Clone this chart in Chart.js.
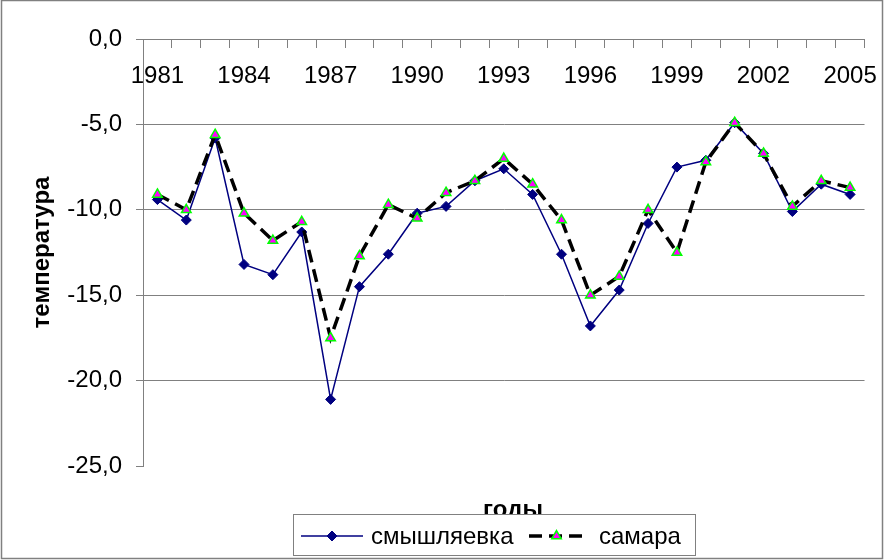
<!DOCTYPE html>
<html>
<head>
<meta charset="utf-8">
<script src="https://cdn.jsdelivr.net/npm/chart.js@4/dist/chart.umd.min.js"></script>
<style>
  body { margin: 0; background: #fff; }
  #wrap { width: 892px; height: 560px; }
</style>
</head>
<body>
<div id="wrap"><canvas id="chart" width="892" height="560"></canvas></div>
<script>
// years on the category axis
const years = [1981, 1982, 1983, 1984, 1985, 1986, 1987, 1988, 1989, 1990, 1991, 1992, 1993,
    1994, 1995, 1996, 1997, 1998, 1999, 2000, 2001, 2002, 2003, 2004, 2005];
// only every third year gets a label
const shownYears = [1981, 1984, 1987, 1990, 1993, 1996, 1999, 2002, 2005];
const yTicks = [0, -5, -10, -15, -20, -25];

const seriesNames = ['смышляевка', 'самара'];
const smyshlyaevka = [-9.4, -10.6, -5.8, -13.2, -13.8, -11.3, -21.1, -14.5, -12.6, -10.2, -9.8, -8.3, -7.6,
    -9.1, -12.6, -16.8, -14.7, -10.8, -7.5, -7.1, -4.9, -6.7, -10.1, -8.5, -9.1];
const samara = [-9.1, -10.0, -5.6, -10.2, -11.8, -10.7, -17.5, -12.7, -9.7, -10.5, -9.0, -8.3, -7.0,
    -8.5, -10.6, -15.0, -13.9, -10.0, -12.5, -7.2, -4.9, -6.7, -9.8, -8.3, -8.7];

const axisTitleX = 'годы';
const axisTitleY = 'температура';

const FONT = "'Liberation Sans', Arial, sans-serif";
const GRAY = '#808080';

Chart.defaults.font.family = FONT;
Chart.defaults.color = '#000';

// frame, x title and the boxed legend (line sample + marker + label)
const frameAndLegend = {
    id: 'frameAndLegend',
    beforeDraw(chart) {
        const ctx = chart.ctx;
        ctx.save();
        ctx.fillStyle = '#fff';
        ctx.fillRect(0, 0, chart.width, chart.height);
        ctx.restore();
    },
    afterDraw(chart) {
        const ctx = chart.ctx;
        ctx.save();

        // outer chart border
        ctx.strokeStyle = GRAY;
        ctx.lineWidth = 1.5;
        ctx.strokeRect(1.5, 0.5, 881, 558);

        // x axis title, partly hidden behind the legend box
        ctx.fillStyle = '#000';
        ctx.font = 'bold 24px ' + FONT;
        ctx.textAlign = 'center';
        ctx.textBaseline = 'alphabetic';
        ctx.fillText(axisTitleX, 513, 517);

        // legend box
        ctx.fillStyle = '#fff';
        ctx.fillRect(293, 514, 402, 41);
        ctx.strokeStyle = GRAY;
        ctx.lineWidth = 1;
        ctx.strokeRect(293.5, 514.5, 402, 41);

        const items = [
            { x0: 301, x1: 363, textX: 371 },
            { x0: 529, x1: 584, textX: 599 }
        ];
        const cy = 536;
        chart.data.datasets.forEach((ds, i) => {
            const it = items[i];
            ctx.save();
            ctx.strokeStyle = ds.borderColor;
            ctx.lineWidth = ds.borderWidth;
            ctx.setLineDash(ds.borderDash || []);
            ctx.beginPath();
            ctx.moveTo(it.x0, cy);
            ctx.lineTo(it.x1, cy);
            ctx.stroke();
            ctx.restore();

            ctx.save();
            ctx.fillStyle = ds.pointBackgroundColor;
            ctx.strokeStyle = ds.pointBorderColor;
            ctx.lineWidth = ds.pointBorderWidth;
            Chart.helpers.drawPoint(ctx, {
                pointStyle: ds.pointStyle,
                radius: ds.pointRadius,
                rotation: 0,
                borderWidth: ds.pointBorderWidth
            }, (it.x0 + it.x1) / 2, cy);
            ctx.restore();

            ctx.fillStyle = '#000';
            ctx.font = '24px ' + FONT;
            ctx.textAlign = 'left';
            ctx.textBaseline = 'middle';
            ctx.fillText(ds.label, it.textX, cy + 1);
        });

        ctx.restore();
    }
};

const ctx = document.getElementById('chart').getContext('2d');
new Chart(ctx, {
    type: 'line',
    data: {
        labels: years,
        datasets: [{
            label: seriesNames[0],
            data: smyshlyaevka,
            borderColor: '#000080',
            borderWidth: 1.5,
            pointStyle: 'rectRot',
            pointRadius: 5,
            pointBackgroundColor: '#000080',
            pointBorderColor: '#000080',
            pointBorderWidth: 1,
            order: 1
        }, {
            label: seriesNames[1],
            data: samara,
            borderColor: '#000000',
            borderWidth: 3.5,
            borderDash: [13, 7],
            pointStyle: 'triangle',
            pointRadius: 5.5,
            pointBackgroundColor: '#ff00ff',
            pointBorderColor: '#00ff00',
            pointBorderWidth: 1.5,
            order: 0
        }]
    },
    options: {
        responsive: false,
        animation: false,
        layout: { padding: { left: 0, top: 39, right: 10, bottom: 94 } },
        plugins: {
            legend: { display: false },
            tooltip: { enabled: false }
        },
        elements: { line: { tension: 0 } },
        scales: {
            x: {
                type: 'category',
                offset: true,
                position: { y: 0 },
                grid: {
                    offset: true,
                    drawOnChartArea: false,
                    drawTicks: true,
                    tickLength: 8,
                    color: GRAY
                },
                border: { color: GRAY, width: 1 },
                ticks: {
                    autoSkip: false,
                    maxRotation: 0,
                    padding: 15,
                    font: { size: 24 },
                    color: '#000',
                    callback: (v, i) => shownYears.includes(years[i]) ? String(years[i]) : ''
                }
            },
            y: {
                min: -25,
                max: 0,
                afterBuildTicks: scale => {
                    scale.ticks = yTicks.map(v => ({ value: v }));
                },
                afterFit: scale => {
                    scale.width = 143;
                },
                grid: {
                    color: c => c.tick && c.tick.value === -25 ? 'rgba(0,0,0,0)' : GRAY,
                    tickColor: GRAY,
                    tickLength: 7,
                    lineWidth: 1
                },
                border: { color: GRAY, width: 1 },
                ticks: {
                    padding: 14,
                    font: { size: 24 },
                    color: '#000',
                    callback: v => v.toFixed(1).replace('.', ',')
                },
                title: {
                    display: true,
                    text: axisTitleY,
                    font: { size: 24, weight: 'bold' },
                    color: '#000',
                    padding: { top: 28, bottom: 0 }
                }
            }
        }
    },
    plugins: [frameAndLegend]
});
</script>
</body>
</html>
